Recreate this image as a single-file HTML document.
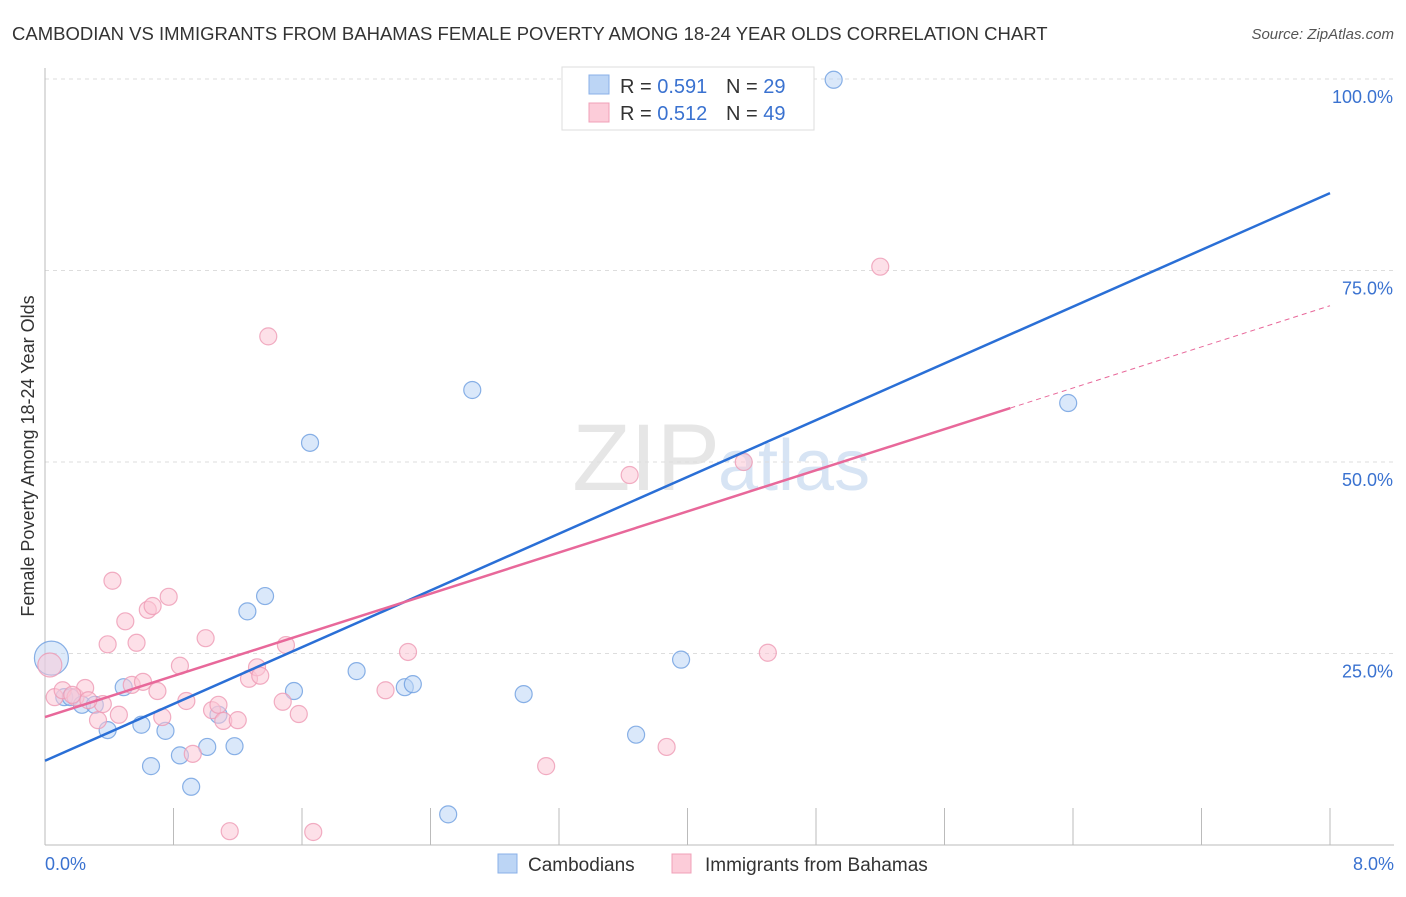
<!DOCTYPE html>
<html><head><meta charset="utf-8"><style>
body{margin:0;background:#fff;font-family:"Liberation Sans",sans-serif}
svg text{font-family:"Liberation Sans",sans-serif}
</style></head><body>
<svg id="c" width="1406" height="892" viewBox="0 0 1406 892" xmlns="http://www.w3.org/2000/svg">
<text x="12" y="40" font-size="18.5" fill="#333">CAMBODIAN VS IMMIGRANTS FROM BAHAMAS FEMALE POVERTY AMONG 18-24 YEAR OLDS CORRELATION CHART</text>
<text x="1394" y="39" font-size="15" fill="#555" font-style="italic" text-anchor="end">Source: ZipAtlas.com</text>
<text x="720" y="490" font-size="95" fill="#e6e6e6" font-family="Liberation Serif" text-anchor="end">ZIP</text>
<text x="718" y="490" font-size="72" fill="#d7e4f4">atlas</text>
<g id="grid"></g>
<g id="axes"></g>
<g id="pts"></g>
<g id="lines"></g>
<text transform="translate(34,456) rotate(-90)" font-size="18" fill="#333" text-anchor="middle">Female Poverty Among 18-24 Year Olds</text>
<g>
<rect x="562" y="67" width="252" height="63" fill="#fff" stroke="#ddd"/>
<rect x="589" y="75" width="20" height="19" fill="#bcd5f5" stroke="#8ab0e8"/>
<rect x="589" y="103" width="20" height="19" fill="#fcccd9" stroke="#f0a0b8"/>
<text x="620" y="93" font-size="20" fill="#333">R = <tspan fill="#3a72d0">0.591</tspan></text>
<text x="726" y="93" font-size="20" fill="#333">N = <tspan fill="#3a72d0">29</tspan></text>
<text x="620" y="120" font-size="20" fill="#333">R = <tspan fill="#3a72d0">0.512</tspan></text>
<text x="726" y="120" font-size="20" fill="#333">N = <tspan fill="#3a72d0">49</tspan></text>
</g>
<g>
<rect x="498" y="854" width="19" height="19" fill="#bcd5f5" stroke="#8ab0e8"/>
<text x="528" y="871" font-size="19" fill="#333">Cambodians</text>
<rect x="672" y="854" width="19" height="19" fill="#fcccd9" stroke="#f0a0b8"/>
<text x="705" y="871" font-size="19" fill="#333">Immigrants from Bahamas</text>
</g>
</svg>
<script>
const yTicks=[25,50,75,100];
const yTickLabels=["25.0%","50.0%","75.0%","100.0%"];
const xTickLabels=["0.0%","8.0%"];
const blueX=[.04,.12,.16,.23,.31,.39,.49,.60,.66,.75,.84,.91,1.01,1.08,1.18,1.26,1.37,1.55,1.65,1.94,2.24,2.29,2.51,2.66,2.98,3.68,3.96,4.91,6.37,3.36];
const blueY=[24.4,19.3,19.3,18.3,18.3,15.0,20.6,15.7,10.3,14.9,11.7,7.6,12.8,17.0,12.9,30.5,32.5,20.1,52.5,22.7,20.6,21.0,4.0,59.4,19.7,14.4,24.2,99.9,57.7,99.9];
const pinkX=[.03,.06,.11,.19,.25,.33,.36,.39,.42,.46,.50,.54,.57,.61,.64,.67,.70,.73,.77,.84,.88,.92,1.00,1.04,1.08,1.11,1.15,1.20,1.27,1.32,1.34,1.39,1.48,1.50,1.58,1.67,2.12,2.26,3.12,3.64,3.87,4.35,4.50,5.20,4.15,.17,.27];
const pinkY=[23.5,19.3,20.2,19.3,20.5,16.3,18.4,26.2,34.5,17.0,29.2,20.9,26.4,21.3,30.7,31.2,20.1,16.7,32.4,23.4,18.8,11.9,27.0,17.6,18.3,16.2,1.8,16.3,21.7,23.2,22.1,66.4,18.7,26.1,17.1,1.7,20.2,25.2,10.3,48.3,12.8,50.0,25.1,75.5,99.9,19.6,18.9];
const blueFit=[11.0,85.1];   // y at x=0 and x=8
const pinkFit=[16.7,70.4];   // y at x=0 and x=8
const pinkSolidEnd=6.01;
const X=v=>45+v/8*1285, Y=v=>845-v*7.66;
const NS="http://www.w3.org/2000/svg";
function mk(tag,at,parent){const e=document.createElementNS(NS,tag);for(const k in at)e.setAttribute(k,at[k]);parent.appendChild(e);return e;}
const grid=document.getElementById('grid'),axes=document.getElementById('axes'),pts=document.getElementById('pts'),lines=document.getElementById('lines');
yTicks.forEach((t,i)=>{
 const l=mk('line',{x1:45,x2:1394,y1:Y(t),y2:Y(t),stroke:'#ddd','stroke-dasharray':'4,4'},grid);
 
 
 const tx=mk('text',{x:1393,y:Y(t)+24,'font-size':18,fill:'#3a72d0','text-anchor':'end'},grid);
 tx.textContent=yTickLabels[i];
 
 
});
let a=mk('line',{x1:45,x2:45,y1:68,y2:845,stroke:'#bbb'},axes);


a=mk('line',{x1:45,x2:1394,y1:845,y2:845,stroke:'#bbb'},axes);


for(let i=1;i<=10;i++){
 const t=mk('line',{x1:X(i*0.8),x2:X(i*0.8),y1:808,y2:845,stroke:'#bbb'},axes);
 
 
}
[[0,'start',45],[8,'end',1394]].forEach((d,i)=>{
 const tx=mk('text',{x:d[2],y:870,'font-size':18,fill:'#3a72d0','text-anchor':d[1]},axes);
 tx.textContent=xTickLabels[i];
 
 
});
function dots(xs,ys,fill,stroke,name){
 xs.forEach((x,i)=>{
  const big=(i===0);
  const c=mk('circle',{cx:X(x),cy:Y(ys[i]),r:big?(name==='blue'?17:12):8.5,fill:fill,'fill-opacity':big?0.5:0.55,stroke:stroke,'stroke-width':1.2,'stroke-opacity':0.8},pts);
  
  
 });
}
dots(blueX,blueY,'#bcd5f5','#6d9de0','blue');
dots(pinkX,pinkY,'#fcc6d5','#ee9ab4','pink');
let ln=mk('line',{x1:X(0),y1:Y(blueFit[0]),x2:X(8),y2:Y(blueFit[1]),stroke:'#2a6fd6','stroke-width':2.5},lines);


const py=x=>pinkFit[0]+(pinkFit[1]-pinkFit[0])*x/8;
ln=mk('line',{x1:X(0),y1:Y(py(0)),x2:X(pinkSolidEnd),y2:Y(py(pinkSolidEnd)),stroke:'#e8689a','stroke-width':2.5},lines);


ln=mk('line',{x1:X(pinkSolidEnd),y1:Y(py(pinkSolidEnd)),x2:X(8),y2:Y(py(8)),stroke:'#e8689a','stroke-width':1,'stroke-dasharray':'5,4'},lines);


</script>
</body></html>
